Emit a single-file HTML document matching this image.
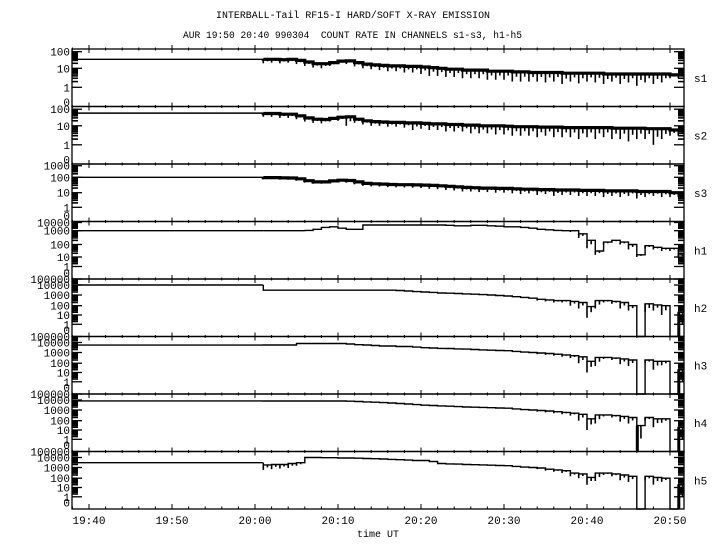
<!DOCTYPE html>
<html><head><meta charset="utf-8"><style>
html,body{margin:0;padding:0;background:#fff;}
svg{display:block;}
text{font-family:"Liberation Mono",monospace;fill:#000;}
</style></head><body>
<svg id="chart" width="720" height="550" viewBox="0 0 720 550" xmlns="http://www.w3.org/2000/svg">
<rect width="720" height="550" fill="#fff"/>
<text x="216" y="18" font-size="10" textLength="274" lengthAdjust="spacingAndGlyphs">INTERBALL-Tail RF15-I HARD/SOFT X-RAY EMISSION</text>
<text x="183" y="38" font-size="10" textLength="339" lengthAdjust="spacingAndGlyphs" xml:space="preserve">AUR 19:50 20:40 990304  COUNT RATE IN CHANNELS s1-s3, h1-h5</text>
<text x="357" y="537" font-size="10">time UT</text>
<g id="g"></g>
</svg>
<script>
// minutes after 19:00 for data samples (20:01 .. 20:51)
const startMin = 61;
const xTickLabels = ["19:40","19:50","20:00","20:10","20:20","20:30","20:40","20:50"];
const xTickMins = [40,50,60,70,80,90,100,110];
const channels = ["s1","s2","s3","h1","h2","h3","h4","h5"];
const flatVals = [35,58,100,1000,10000,5600,8000,3000];
const s1Mid=[35,35,33,35,30,24,19,19,22,27,28,22,18,16,15,14,14,13,13,12,11,10,9,9,8,8,8,7,7,7,6.5,6.5,6,6,6,6,5.5,5.5,5.5,5.5,5.5,5,5,5,5,5,5,5,5,4.5,4.5];
const s1Lo=[20,22,20,22,18,14,11,10,14,18,18,13,10,9,8,7,7,6,6,5,4,4,3.5,3.5,3,3,3,2.5,2.5,2.5,2,2,2,2,1.8,2,1.5,2,1.6,2,1.8,1.5,2,1.5,1.8,1.2,1.8,1.5,1.8,3,3];
const s2Mid=[55,55,50,50,40,30,25,24,28,33,35,25,20,18,17,16,16,15,15,14,13,13,12,12,11,11,10,10,10,9.5,9,9,9,8.5,8.5,8.5,8,8,8,8,8,8,7.5,7.5,7.5,7.5,7,7,7,6,6];
const s2Lo=[35,35,30,30,25,18,15,14,18,20,10,15,12,10,10,9,9,8,6,7,6,6,5,5,5,4,4,4,3.5,3.5,3,3,3,2.5,3,2.5,2.5,2.5,2,2.5,2,2.5,2,2,1.5,2,2,1,2,3,3];
const s3Mid=[95,95,92,90,80,60,50,50,58,65,62,50,40,38,36,34,33,33,32,31,30,28,26,24,22,21,20,20,19,19,18,17,17,16,16,15,15,15,14,14,14,13,13,13,13,12,12,12,12,10,10];
const s3Lo=[75,75,70,70,60,45,38,38,45,50,45,35,28,26,25,23,22,22,21,20,18,17,15,14,12,12,11,11,10,10,9,8,9,7,8,6,7,7,6,6,6,5,6,5,6,4,5,6,5,5,5];
const h1Mid=[1000,1000,1000,1000,1000,1100,1500,2500,3000,2000,1500,1500,5000,5000,5000,5000,5000,5000,5000,5000,5000,5000,4500,4000,4000,4500,4500,4000,3500,3000,3000,2500,2000,1500,1300,1100,1000,1000,600,200,30,150,200,150,100,15,80,60,50,50,15];
const h1Lo=[1000,1000,1000,1000,1000,1100,1500,2500,3000,2000,1500,1500,5000,5000,5000,5000,5000,5000,5000,5000,5000,5000,4500,4000,4000,4500,4500,4000,3500,3000,3000,2500,2000,1500,1300,1100,1000,800,300,50,15,100,150,100,40,10,50,40,30,30,8];
const h2Mid=[3000,3000,3000,3000,3000,3000,3000,3000,3000,3000,3000,3000,3000,3000,3000,3000,2800,2500,2200,2000,1800,1600,1500,1400,1300,1200,1100,1000,900,800,700,600,500,400,350,300,300,250,200,80,300,300,250,200,100,0,150,120,100,0,20];
const h2Lo=[3000,3000,3000,3000,3000,3000,3000,3000,3000,3000,3000,3000,3000,3000,3000,3000,2800,2500,2200,2000,1800,1600,1500,1400,1300,1200,1100,1000,900,800,700,600,500,300,250,200,200,100,50,5,50,200,150,50,30,0,20,30,10,0,0];
const h3Mid=[5600,5600,5600,5600,8000,8000,8000,8000,8000,8000,7000,6000,5600,5000,4500,4500,4000,4000,3500,3000,2800,2600,2500,2300,2200,2000,1800,1700,1600,1500,1300,1100,1000,900,800,700,600,500,400,150,350,350,300,250,200,0,200,150,150,0,20];
const h3Lo=[5600,5600,5600,5600,8000,8000,8000,8000,8000,8000,7000,6000,5600,5000,4500,4500,4000,4000,3500,3000,2800,2600,2500,2300,2200,2000,1800,1700,1600,1500,1300,1100,1000,700,600,500,400,300,100,10,50,250,200,80,50,0,100,20,60,0,0];
const h4Mid=[8000,8000,8000,8000,8000,8000,8000,8000,8000,8000,7500,7000,6500,6000,5500,5000,4500,4000,3500,3000,2800,2600,2400,2200,2000,1900,1800,1700,1600,1500,1300,1100,1000,900,800,700,600,500,400,150,350,350,300,250,200,30,200,150,150,0,20];
const h4Lo=[8000,8000,8000,8000,8000,8000,8000,8000,8000,8000,7500,7000,6500,6000,5500,5000,4500,4000,3500,3000,2800,2600,2400,2200,2000,1900,1800,1700,1600,1500,1300,1100,1000,700,600,500,400,300,100,10,50,250,200,80,50,0,100,20,60,0,0];
const h5Mid=[1800,2000,2000,2500,3000,10000,10000,9500,9500,9000,9000,8500,8000,7500,7000,6500,6000,5500,5000,5000,4000,2500,2300,2200,2000,1900,1800,1700,1600,1500,1300,1100,1000,900,700,600,500,300,250,120,300,300,250,200,150,0,150,120,100,0,20];
const h5Lo=[600,700,800,900,1500,10000,10000,9500,9500,9000,9000,8500,8000,7500,7000,6500,6000,5500,5000,5000,4000,2500,2300,2200,2000,1900,1800,1700,1600,1500,1300,1100,1000,700,500,400,300,150,100,20,50,200,150,60,40,0,60,20,40,0,0];
const mids=[s1Mid,s2Mid,s3Mid,h1Mid,h2Mid,h3Mid,h4Mid,h5Mid];
const los=[s1Lo,s2Lo,s3Lo,h1Lo,h2Lo,h3Lo,h4Lo,h5Lo];
const decadeLabels=[["100","10","1"],["100","10","1"],["1000","100","10","1"],["10000","1000","100","10","1"],
 ["100000","10000","1000","100","10","1"],["100000","10000","1000","100","10","1"],["100000","10000","1000","100","10","1"],["100000","10000","1000","100","10","1"]];

const NS="http://www.w3.org/2000/svg";
const g=document.getElementById('g');
const L=72,R=684,TOP=49,PH=57.5;
const xOf=m=>89+(m-40)*8.3;
const geo={s12:[2.7,19.3,38.3],s3:[1.7,13.3,28.7,43.3],h1:[1,9.2,23,35.5,45],h:[0,6,16,26.7,36,45.3]};
const zeroOff={s12:54,s3:52.7,h1:52.5,h:52};
function geoFor(i){return i<2?'s12':i==2?'s3':i==3?'h1':'h';}
function mk(tag,attrs){const e=document.createElementNS(NS,tag);for(const k in attrs)e.setAttribute(k,attrs[k]);g.appendChild(e);return e;}
function yOf(i,v){
  const top=TOP+i*PH, gk=geoFor(i), offs=geo[gk], labs=decadeLabels[i];
  if(v<=0) return top+PH;
  const lv=Math.log10(v), decs=labs.map(s=>Math.log10(+s));
  let k=0; while(k<decs.length-2 && lv<decs[k+1]) k++;
  const t=(decs[k]-lv)/(decs[k]-decs[k+1]);
  return Math.min(top+PH, Math.max(top, top+offs[k]+t*(offs[k+1]-offs[k])));
}
for(let i=0;i<8;i++){
  const top=TOP+i*PH;
  const box=mk('rect',{x:L,y:top,width:R-L,height:PH,fill:'none',stroke:'#000','stroke-width':1.3});
  
  
  for(let m=38;m<=112;m+=2){const x=xOf(m);if(x<=L||x>=R)continue;const big=m%10==0;
    mk('line',{x1:x,x2:x,y1:top-(big?4:1.5),y2:top+(big?4:1.5),stroke:'#000','stroke-width':1});}
  const labs=decadeLabels[i];
  labs.forEach((s,k)=>{const y=yOf(i,+s);
    mk('line',{x1:L,x2:L+10,y1:y,y2:y,stroke:'#000','stroke-width':1.3});
    mk('line',{x1:R,x2:R-10,y1:y,y2:y,stroke:'#000','stroke-width':1.3});
    const t=mk('text',{x:70,y:y+4,'font-size':11,'text-anchor':'end'});t.textContent=s;
    
    
    if(k<labs.length-1){for(let d=2;d<10;d++){const yy=yOf(i,(+labs[k+1])*d);
      mk('line',{x1:L,x2:L+6,y1:yy,y2:yy,stroke:'#000','stroke-width':1.6});
      mk('line',{x1:R,x2:R-6,y1:yy,y2:yy,stroke:'#000','stroke-width':1.6});}}
  });
  const zy=top+zeroOff[geoFor(i)];
  const zt=mk('text',{x:70,y:zy+3,'font-size':11,'text-anchor':'end'});zt.textContent='0';
  
  
  const cl=mk('text',{x:694,y:top+PH/2+4,'font-size':11});cl.textContent=channels[i];
  
  
  const mid=mids[i],lo=los[i];
  let prevY=yOf(i,flatVals[i]);
  const fp=mk('path',{d:'M'+L+','+prevY+' L'+xOf(startMin)+','+prevY,fill:'none',stroke:'#000','stroke-width':1.4});
  
  
  let d='M'+xOf(startMin)+','+prevY;
  mid.forEach((v,j)=>{const x=xOf(startMin+j).toFixed(1),y=yOf(i,v).toFixed(1);
    d+=' L'+x+','+prevY+' L'+x+','+y; prevY=y;});
  d+=' L'+xOf(startMin+mid.length-0.3).toFixed(1)+','+prevY;
  const p=mk('path',{d:d,fill:'none',stroke:'#000','stroke-width':i<3?3.2:1.4,'stroke-linejoin':'miter'});
  
  
  lo.forEach((v,j)=>{const y1=yOf(i,mid[j]),y2=yOf(i,v);
    if(Math.abs(y2-y1)>0.5){
      [0,0.5].forEach(off=>{const x=xOf(startMin+j+off);
        const s=mk('line',{x1:x,x2:x,y1:y1,y2:off?(y1+y2)/2:y2,stroke:'#000','stroke-width':1.6});
        
        });
      if(v<=0){const s=mk('rect',{x:xOf(startMin+j)-1,y:y1,width:3,height:y2-y1,fill:'#000'});
        
        }
    }});
}
const by=TOP+8*PH;
for(let m=38;m<=112;m+=2){const x=xOf(m);if(x<=L||x>=R)continue;const big=m%10==0;
  mk('line',{x1:x,x2:x,y1:by,y2:by-(big?5:2.5),stroke:'#000','stroke-width':1});}
xTickLabels.forEach((s,k)=>{const t=mk('text',{x:xOf(xTickMins[k]),y:by+15,'font-size':11,'text-anchor':'middle'});t.textContent=s;
  
  });
</script>
</body></html>
